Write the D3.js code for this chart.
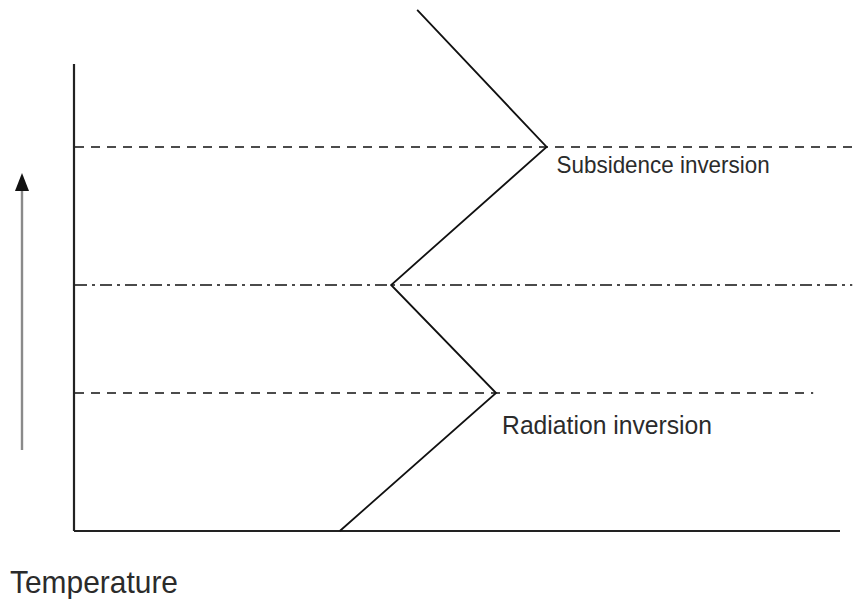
<!DOCTYPE html>
<html>
<head>
<meta charset="utf-8">
<script src="https://cdn.jsdelivr.net/npm/d3@7"></script>
<style>
  body { margin: 0; background: #fff; }
  text { font-family: "Liberation Sans", Arial, sans-serif; fill: #2b2b2b; }
</style>
</head>
<body>
<div id="chart"></div>
<script>
// profile of temperature (x) against height (y), arbitrary units 0-100
const profileTemp = [34.7, 55.1, 41.4, 61.7, 44.8];
const profileHeight = [0, 29.55, 52.68, 82.23, 111.6];

// horizontal level lines
const levelNames = ["radiation", "mixing", "subsidence"];
const levelHeights = [29.55, 52.68, 82.23];
const levelEnds = [96.5, 101.6, 101.6];
const levelStyles = ["dash", "dashdot", "dash"];

const labelTexts = ["Subsidence inversion", "Radiation inversion"];
const axisLabel = "Temperature";

const W = 856, H = 599;
const svg = d3.select("#chart").append("svg")
  .attr("width", W).attr("height", H)
  .attr("viewBox", `0 0 ${W} ${H}`);

const x = d3.scaleLinear().domain([0, 100]).range([74, 840]);
const y = d3.scaleLinear().domain([0, 100]).range([531, 64]);

const dashes = { dash: "9,7", dashdot: "12,5,3,5" };

// level lines
svg.selectAll("line.level")
  .data(levelHeights)
  .join("line")
    .attr("class", "level")
    .attr("x1", x(0) + 1)
    .attr("x2", (d, i) => x(levelEnds[i]))
    .attr("y1", d => y(d))
    .attr("y2", d => y(d))
    .attr("stroke", "#111")
    .attr("stroke-width", 1.6)
    .attr("stroke-dasharray", (d, i) => dashes[levelStyles[i]]);

// axes (plain lines, no ticks)
svg.append("line")
  .attr("x1", x(0)).attr("x2", x(0))
  .attr("y1", y(0)).attr("y2", y(100))
  .attr("stroke", "#222").attr("stroke-width", 2.2);
svg.append("line")
  .attr("x1", x(0)).attr("x2", x(100))
  .attr("y1", y(0)).attr("y2", y(0))
  .attr("stroke", "#222").attr("stroke-width", 2.2);

// temperature profile
const line = d3.line()
  .x((d, i) => x(d))
  .y((d, i) => y(profileHeight[i]));
svg.append("path")
  .datum(profileTemp)
  .attr("d", line)
  .attr("fill", "none")
  .attr("stroke", "#111")
  .attr("stroke-width", 1.8);

// height arrow
svg.append("line")
  .attr("x1", 22).attr("x2", 22)
  .attr("y1", 450).attr("y2", 188)
  .attr("stroke", "#8a8a8a").attr("stroke-width", 2.4);
svg.append("path")
  .attr("d", "M22,173 L29,191 L15,191 Z")
  .attr("fill", "#111");

// labels
svg.append("text")
  .attr("x", x(profileTemp[3]) + 10)
  .attr("y", y(levelHeights[2]) + 26)
  .attr("font-size", 24)
  .attr("textLength", 213)
  .attr("lengthAdjust", "spacingAndGlyphs")
  .text(labelTexts[0]);
svg.append("text")
  .attr("x", x(profileTemp[1]) + 6)
  .attr("y", y(levelHeights[0]) + 41)
  .attr("font-size", 26)
  .attr("textLength", 210)
  .attr("lengthAdjust", "spacingAndGlyphs")
  .text(labelTexts[1]);
svg.append("text")
  .attr("x", 10)
  .attr("y", 593)
  .attr("font-size", 30.5)
  .attr("textLength", 168)
  .attr("lengthAdjust", "spacingAndGlyphs")
  .text(axisLabel);
</script>
</body>
</html>
